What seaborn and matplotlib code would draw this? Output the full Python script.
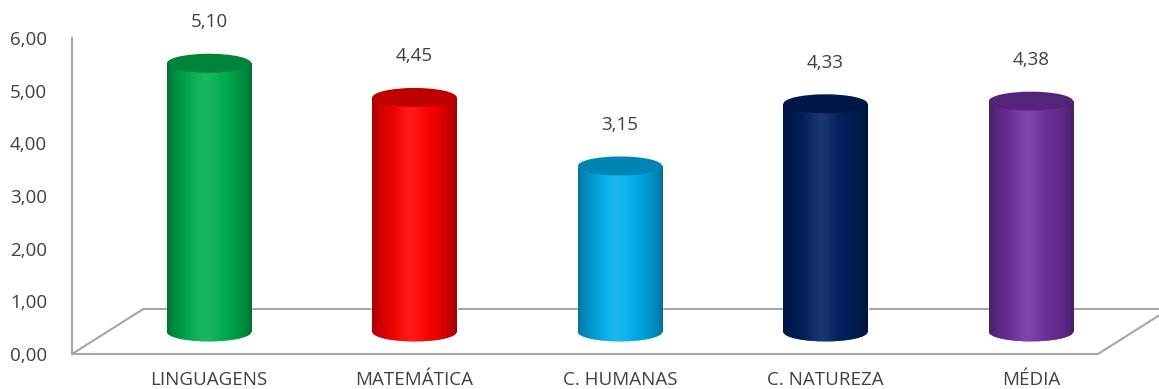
import numpy as np
import pandas as pd
import seaborn as sns
import matplotlib.pyplot as plt
from matplotlib.patches import Ellipse
from matplotlib.colors import to_rgb
from matplotlib.ticker import FuncFormatter

# Data
categories = ['LINGUAGENS', 'MATEMÁTICA', 'C. HUMANAS', 'C. NATUREZA', 'MÉDIA']
scores = [5.10, 4.45, 3.15, 4.33, 4.38]
bar_colors = ['#00B050', '#FF0000', '#00B0F0', '#002060', '#7030A0']
y_ticks = [0, 1, 2, 3, 4, 5, 6]

# 3D-look settings
FLOOR = 0.42      # bars sit on the middle of the floor
FLOOR_BACK = 0.85
CAP_H = 0.36
BAR_W = 0.41
GRAY = '#a6a6a6'
TEXT = '#404040'
FS = 13.5

sns.set_style("white")
plt.rcParams['font.family'] = ['Open Sans', 'DejaVu Sans']

df = pd.DataFrame({'area': categories, 'nota': scores})

fig = plt.figure(figsize=(11.59, 3.89), dpi=100)
ax = fig.add_axes([72 / 1159, 35 / 389, 1 - 72 / 1159, 1 - 35 / 389])

sns.barplot(data=df, x='area', y='nota', hue='area', palette=bar_colors,
            width=BAR_W, bottom=FLOOR, legend=False, ax=ax, zorder=3)


def shaded(base, n=200):
    t = np.linspace(0, 1, n)
    shade = 0.55 + 0.45 * np.sin(np.pi * np.clip(t * 0.95 + 0.03, 0, 1)) ** 0.6
    rgb = np.array(to_rgb(base))[None, :] * shade[:, None]
    hl = 0.10 * np.exp(-((t - 0.45) / 0.15) ** 2)
    rgb = rgb + (1 - rgb) * hl[:, None]
    return np.clip(rgb, 0, 1)[None, :, :]


# cylinder shading: gradient body, rounded bottom, darker top cap
for patch, c in zip(ax.patches[:len(categories)], bar_colors):
    x0, w = patch.get_x(), patch.get_width()
    y0, h = patch.get_y(), patch.get_height()
    cx = x0 + w / 2
    img = shaded(c)

    bottom_cap = Ellipse((cx, y0), w, CAP_H, facecolor=c, edgecolor='none', zorder=3)
    ax.add_patch(bottom_cap)
    im = ax.imshow(img, extent=(x0, x0 + w, y0 - CAP_H, y0 + h), aspect='auto', zorder=3.2)
    im.set_clip_path(bottom_cap)
    im = ax.imshow(img, extent=(x0, x0 + w, y0, y0 + h), aspect='auto', zorder=3.3)
    im.set_clip_path(patch)

    top = np.array(to_rgb(c)) * 0.75
    ax.add_patch(Ellipse((cx, y0 + h), w, CAP_H, facecolor=top,
                         edgecolor='none', zorder=4))

    ax.annotate(f"{h:.2f}".replace('.', ','), xy=(cx, y0 + h), xytext=(0, 26),
                textcoords='offset points', ha='center', va='baseline',
                fontsize=FS, color=TEXT)

# floor of the 3D plot
x_left, x_right = -0.667, 4.326
depth = 0.345
ax.plot([x_left, x_right], [0, 0], color=GRAY, lw=1.5, zorder=1, clip_on=False)
ax.plot([x_left, x_left + depth], [0, FLOOR_BACK], color=GRAY, lw=1.5, zorder=1)
ax.plot([x_right, x_right + depth], [0, FLOOR_BACK], color=GRAY, lw=1.5, zorder=1)
ax.plot([x_left + depth, x_right + depth], [FLOOR_BACK, FLOOR_BACK], color=GRAY, lw=1.5, zorder=1)

ax.set_xlim(-0.667, 4.623)
ax.set_ylim(0, 6.72)
ax.set_yticks(y_ticks)
ax.yaxis.set_major_formatter(FuncFormatter(lambda v, p: f"{v:.2f}".replace('.', ',')))
ax.set_xlabel('')
ax.set_ylabel('')

for s in ['top', 'right', 'bottom']:
    ax.spines[s].set_visible(False)
ax.spines['left'].set_bounds(0, 6)
ax.spines['left'].set_color(GRAY)
ax.spines['left'].set_linewidth(1.5)
ax.tick_params(axis='y', length=0, pad=18, labelsize=FS, labelcolor=TEXT)
ax.tick_params(axis='x', length=0, pad=12, labelsize=FS, labelcolor=TEXT)
ax.patch.set_alpha(0)

plt.savefig('out.png', dpi=100)
